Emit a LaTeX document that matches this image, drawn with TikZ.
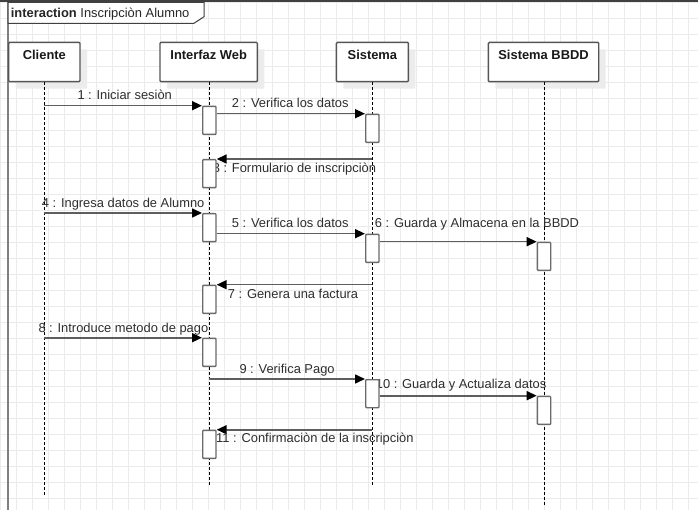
\documentclass[tikz,border=0pt]{standalone}
\usepackage{fontspec}
\setmainfont{Liberation Sans}
\usetikzlibrary{arrows.meta,shadows}
\definecolor{gridc}{HTML}{EBEBEB}
\definecolor{framec}{HTML}{808080}
\definecolor{barc}{HTML}{404040}
\definecolor{boxc}{HTML}{555555}
\definecolor{actc}{HTML}{6A6A6A}
\definecolor{msgc}{HTML}{5E5E5E}
\definecolor{txtc}{HTML}{2E2E2E}
\definecolor{shadc}{HTML}{ECECEC}
\pgfdeclarelayer{bg}
\pgfdeclarelayer{fg}
\pgfsetlayers{bg,main,fg}
\begin{document}
\begin{tikzpicture}[x=1pt,y=-1pt,
  font=\fontsize{12.9}{15}\selectfont,
  head/.style={draw=boxc, line width=1.4pt, fill=white, rounded corners=1pt,
    anchor=north west, inner xsep=0pt, inner ysep=0pt,
    text height=17.6pt, text depth=21.7pt, minimum height=39.3pt,
    font=\fontsize{12.9}{15}\selectfont\bfseries, text=black!90,
    drop shadow={shadow xshift=7pt, shadow yshift=-7pt, fill=shadc, opacity=1}},
  act/.style={draw=actc, line width=1.4pt, fill=white, rounded corners=0.8pt,
    anchor=north west, minimum width=13.3pt, minimum height=28pt, inner sep=0pt},
  life/.style={draw=black, line width=0.9pt, dash pattern=on 3pt off 2pt},
  msg/.style={draw=msgc, line width=1.6pt, -{Triangle[length=10pt,width=9pt,color=black]}},
  lbl/.style={anchor=base west, inner sep=0pt, text=txtc},
]
\useasboundingbox (0,0) rectangle (698,510);

\begin{pgfonlayer}{bg}
  \fill[white] (0,0) rectangle (698,510);
  \foreach \k in {0,...,43} \draw[gridc, line width=1pt] ({0.5+16*\k},0) -- ({0.5+16*\k},510);
  \foreach \k in {0,...,31} \draw[gridc, line width=1pt] (0,{2.5+16*\k}) -- (698,{2.5+16*\k});
  \draw[framec, line width=2pt] (7.7,0) -- (7.7,510);
  \fill[barc] (0,0) rectangle (698,2.5);
  \draw[barc, line width=1pt, fill=white] (8,2.5) -- (204,2.5) -- (204,16.7) -- (194,23.3) -- (8,23.3) -- cycle;
\end{pgfonlayer}

\node[anchor=base west, inner sep=0pt, text=black!85] (title) at (10.7,17.3) {\textbf{interaction} Inscripciòn Alumno};

% lifeline heads
\node[head, minimum width=71.3pt] (cl) at (8,41.7) {Cliente};
\node[head, minimum width=97.4pt] (iw) at (159.3,41.7) {Interfaz Web};
\node[head, minimum width=72pt] (sy) at (335.7,41.7) {Sistema};
\node[head, minimum width=110.3pt] (bd) at (487.7,41.7) {Sistema BBDD};

% lifeline ends
\coordinate (clend) at (44.3,497.3);
\coordinate (iwend) at (209.3,487);
\coordinate (syend) at (372.3,487);
\coordinate (bdend) at (544.7,505);
\draw[life] (cl.south -| clend) -- (clend);
\draw[life] (iw.south -| iwend) -- (iwend);
\draw[life] (sy.south -| syend) -- (syend);
\draw[life] (bd.south -| bdend) -- (bdend);

% activations
\begin{pgfonlayer}{fg}
\node[act] (i1) at (202,105.7) {};
\node[act] (s1) at (365,113.7) {};
\node[act] (i2) at (202,159) {};
\node[act] (i3) at (202,213) {};
\node[act] (s2) at (365,233.7) {};
\node[act] (b1) at (536.7,241.7) {};
\node[act] (i4) at (202,284.7) {};
\node[act] (i5) at (202,337.7) {};
\node[act] (s3) at (365,379) {};
\node[act] (b2) at (536.7,395.7) {};
\node[act] (i6) at (202,429.7) {};
\end{pgfonlayer}

% messages
\draw[msg] (clend |- i1.north) -- (i1.north west);
\draw[msg] (s1.north west -| i1.east) -- (s1.north west);
\draw[msg] (syend |- i2.north) -- (i2.north east);
\draw[msg] (clend |- i3.north) -- (i3.north west);
\draw[msg] (s2.north west -| i3.east) -- (s2.north west);
\draw[msg] (b1.north west -| s2.east) -- (b1.north west);
\draw[msg] (syend |- i4.north) -- (i4.north east);
\draw[msg] (clend |- i5.north) -- (i5.north west);
\draw[msg] (iwend |- s3.north) -- (s3.north west);
\draw[msg] (b2.north west -| s3.east) -- (b2.north west);
\draw[msg] (syend |- i6.north) -- (i6.north east);

% labels
\node[lbl] (l1) at (77.3,100) {1 : Iniciar sesiòn};
\node[lbl] (l2) at (231.7,107.5) {2 : Verifica los datos};
\node[lbl] (l3) at (212.6,172.7) {3 : Formulario de inscripciòn};
\node[lbl] (l4) at (41.7,207.3) {4 : Ingresa datos de Alumno};
\node[lbl] (l5) at (231.7,228) {5 : Verifica los datos};
\node[lbl] (l6) at (374.7,227.7) {6 : Guarda y Almacena en la BBDD};
\node[lbl] (l7) at (227.7,298.5) {7 : Genera una factura};
\node[lbl] (l8) at (38.3,332) {8 : Introduce metodo de pago};
\node[lbl] (l9) at (239.3,373.3) {9 : Verifica Pago};
\node[lbl] (l10) at (375.7,388.3) {10 : Guarda y Actualiza datos};
\node[lbl] (l11) at (216,442.7) {11 : Confirmaciòn de la inscripciòn};
\end{tikzpicture}
\end{document}
